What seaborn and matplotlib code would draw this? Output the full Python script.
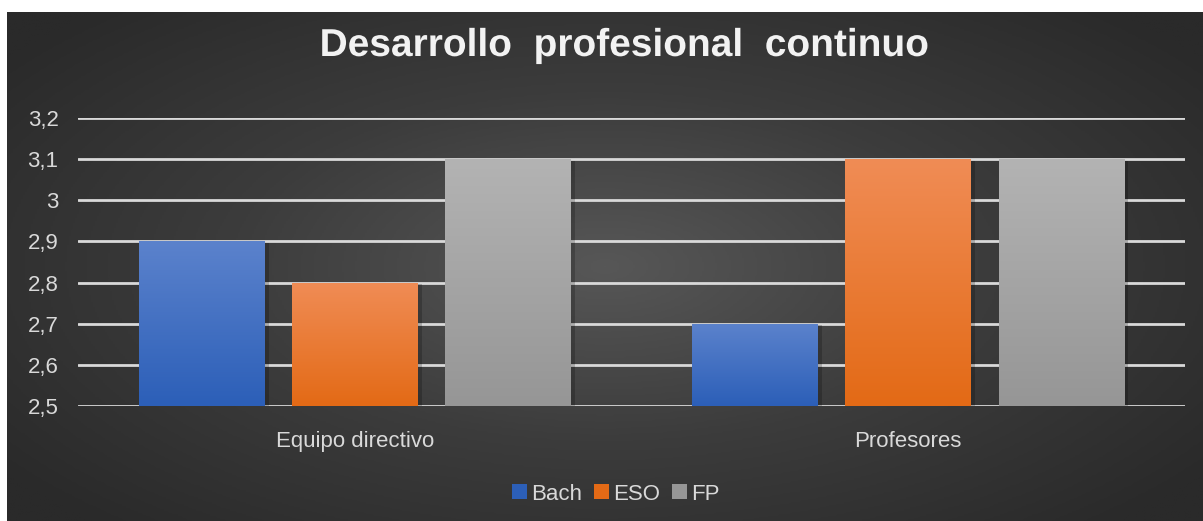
import numpy as np, pandas as pd, matplotlib
matplotlib.use('Agg')
import matplotlib.pyplot as plt
import matplotlib.patheffects as pe
from matplotlib.colors import LinearSegmentedColormap
import seaborn as sns

categorias = ['Equipo directivo', 'Profesores']
series = ['Bach', 'ESO', 'FP']
bach = [2.9, 2.7]
eso = [2.8, 3.1]
fp = [3.1, 3.1]
yticks = [2.5, 2.6, 2.7, 2.8, 2.9, 3.0, 3.1, 3.2]
ytick_labels = ['2,5', '2,6', '2,7', '2,8', '2,9', '3', '3,1', '3,2']

df = pd.DataFrame({'cat': categorias * 3, 'serie': [s for s in series for _ in categorias],
                   'valor': bach + eso + fp})

base = {'Bach': '#4472c4', 'ESO': '#ed7d31', 'FP': '#a5a5a5'}
grad = {'Bach': ('#5b82cc', '#2c5fb8'), 'ESO': ('#f08c55', '#e36a16'), 'FP': ('#b3b3b3', '#969696')}

sns.set_theme(style='dark')
plt.rcParams['font.family'] = ['Liberation Sans', 'DejaVu Sans']

fig = plt.figure(figsize=(12.03, 5.21), dpi=100)
fig.patch.set_facecolor('white')

# background radial gradient (chart area with white margin top/left)
bg = fig.add_axes([7/1203, 0, 1 - 7/1203, 1 - 12/521])
yy, xx = np.mgrid[-1:1:300j, -1:1:600j]
r = np.sqrt((xx / 1.0) ** 2 + (yy / 1.1) ** 2)
bgcm = LinearSegmentedColormap.from_list('bg', ['#575757', '#3c3c3c', '#2a2a2a'])
bg.imshow(np.clip(r / 1.25, 0, 1), cmap=bgcm, aspect='auto', extent=[0, 1, 0, 1], vmin=0, vmax=1)
bg.set_axis_off()

ax = fig.add_axes([78/1203, 1 - 406/521, (1185 - 78)/1203, (406 - 118)/521])
ax.patch.set_alpha(0)
sns.barplot(data=df, x='cat', y='valor', hue='serie', palette=base, width=0.83, gap=0.18,
            ax=ax, legend=True, zorder=3, linewidth=0)
ax.set_ylim(2.5, 3.2)
ax.set_xlim(-0.5, 1.5)
ax.set_yticks(yticks)
ax.set_yticklabels(ytick_labels)
ax.yaxis.grid(True, color='#d9d9d9', lw=2, zorder=1)
ax.xaxis.grid(False)
for s in ax.spines.values():
    s.set_visible(False)
ax.tick_params(axis='y', colors='#d9d9d9', labelsize=16, length=0, pad=14)
ax.tick_params(axis='x', colors='#d9d9d9', labelsize=16, length=0, pad=18)
ax.set_xlabel('')
ax.set_ylabel('')

# gradient fill for each bar, clipped to the seaborn patch
for cont, s in zip(ax.containers, series):
    cm = LinearSegmentedColormap.from_list(s, [grad[s][1], grad[s][0]])
    for p in cont.patches:
        x0, y0 = p.get_x(), p.get_y()
        w, h = p.get_width(), p.get_height()
        p.set_path_effects([pe.SimplePatchShadow(offset=(3, -1), shadow_rgbFace='black', alpha=0.2), pe.Normal()])
        im = ax.imshow(np.linspace(0, 1, 100).reshape(-1, 1), cmap=cm, origin='lower', aspect='auto',
                       extent=[x0, x0 + w, 2.5, y0 + h], zorder=4)
        im.set_clip_path(p)
ax.set_xlim(-0.5, 1.5)
ax.set_ylim(2.5, 3.2)

leg = ax.legend(handles=ax.get_legend().legend_handles, labels=series, loc='upper center',
                bbox_to_anchor=(0.486, -0.20), ncol=3, frameon=False, fontsize=16,
                handlelength=0.65, handleheight=0.65, handletextpad=0.2, columnspacing=0.55)
for t in leg.get_texts():
    t.set_color('#d9d9d9')
for h, s in zip(leg.legend_handles, series):
    h.set_facecolor(grad[s][1])
    h.set_linewidth(0)

fig.text(0.519, 1 - 46/521, 'Desarrollo  profesional  continuo', ha='center', va='center',
         fontsize=28, fontweight='bold', color='#f2f2f2',
         path_effects=[pe.SimpleLineShadow(offset=(3, -3), shadow_color='black', alpha=0.5), pe.Normal()])

fig.savefig('out.png', dpi=100, facecolor=fig.get_facecolor())
